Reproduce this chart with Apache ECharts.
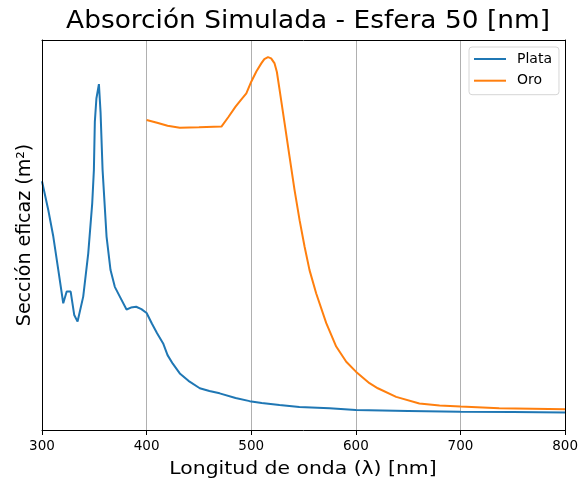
<!DOCTYPE html>
<html>
<head>
<meta charset="utf-8">
<script src="https://cdn.jsdelivr.net/npm/echarts@6/dist/echarts.min.js"></script>
<style>
  html, body { margin: 0; padding: 0; background: #fff; }
  #chart { width: 581px; height: 480px; }
</style>
</head>
<body>
<div id="chart"></div>
<script>
// Simulated absorption cross-section (arbitrary units) of a 50 nm sphere
const plataNm = [300, 306, 310.8, 315.6, 320.3, 323.6, 327.4, 330.8, 334, 339.4, 344.2, 348, 349.6, 350.5, 352, 354.4, 356, 357.9, 361.7, 365.5, 369.6, 374.4, 380.8, 385, 390, 395, 400, 405, 410, 415.8, 420, 425, 431.7, 440, 450.8, 460, 469.8, 485, 498.5, 510, 527, 546, 574.8, 600, 650, 700, 750, 800];
const plataSigma = [63.8, 56.4, 49.6, 41, 32.5, 35.5, 35.5, 29.5, 27.8, 34.2, 45.3, 58.1, 66.7, 79, 85, 88.7, 81.3, 66.7, 49.6, 41, 36.7, 34.2, 30.9, 31.4, 31.6, 31, 30, 27.3, 24.8, 22.2, 19.2, 17, 14.5, 12.6, 10.7, 10, 9.4, 8.2, 7.4, 6.9, 6.4, 5.9, 5.6, 5.1, 4.9, 4.7, 4.6, 4.5];

const oroNm = [400, 410, 420, 431.7, 450, 471.5, 478, 485, 490, 495.3, 500, 505, 509.6, 512.5, 516, 519, 522.3, 524.5, 527.1, 531.9, 536.6, 541.4, 546.2, 551, 555.7, 562.1, 571.7, 581.2, 590.8, 600.3, 613, 621, 638.5, 660.7, 680, 700, 737, 800];
const oroSigma = [79.5, 78.8, 78, 77.5, 77.6, 77.8, 80.2, 82.9, 84.6, 86.3, 89.3, 92, 94, 95.1, 95.6, 95.3, 94, 91.8, 87.2, 78.6, 70.1, 61.5, 53.8, 47, 41, 35, 27.4, 21.4, 17.5, 14.9, 12, 10.7, 8.5, 6.8, 6.3, 6.0, 5.6, 5.3];

const xTicks = [300, 400, 500, 600, 700, 800];

const titleText = 'Absorción Simulada - Esfera 50 [nm]';
const xName = 'Longitud de onda (λ) [nm]';
const yName = 'Sección eficaz (m²)';

const zip = (xs, ys) => xs.map((x, i) => [x, ys[i]]);

const chart = echarts.init(document.getElementById('chart'), null, { renderer: 'canvas' });
const font = 'DejaVu Sans';

chart.setOption({
  animation: false,
  backgroundColor: '#fff',
  textStyle: { fontFamily: font, color: '#000' },
  graphic: [{
    type: 'text', x: 308, y: 22, scaleX: 1.1,
    style: { text: titleText, font: '24px "DejaVu Sans"', fill: '#000', textAlign: 'center', textVerticalAlign: 'middle' }
  }, {
    type: 'text', x: 303, y: 469, scaleX: 1.1,
    style: { text: xName, font: '18.5px "DejaVu Sans"', fill: '#000', textAlign: 'center', textVerticalAlign: 'middle' }
  }],
  grid: { left: 42, right: 15, top: 40, bottom: 50, containLabel: false },
  legend: {
    data: ['Plata', 'Oro'],
    orient: 'vertical',
    left: 469, top: 47,
    padding: [4, 7, 6, 5],
    itemGap: 5.7,
    icon: 'rect',
    itemWidth: 32, itemHeight: 2,
    backgroundColor: 'rgba(255,255,255,0.8)',
    borderColor: '#d6d6d6', borderWidth: 1, borderRadius: 3,
    textStyle: { fontFamily: font, fontSize: 14, color: '#000', lineHeight: 16, padding: [0, 0, 0, 6] }
  },
  xAxis: [{
    type: 'value', min: 300, max: 800, interval: 100,
    axisLine: { onZero: false, lineStyle: { color: '#000', width: 1 } },
    axisTick: { show: true, length: 5, lineStyle: { color: '#000' } },
    axisLabel: {
      margin: 9, fontFamily: font, fontSize: 13.5, color: '#000',
      formatter: v => xTicks.includes(v) ? String(v) : ''
    },
    splitLine: { show: true, lineStyle: { color: '#b0b0b0', width: 1 } }
  }, {
    type: 'value', position: 'top', min: 300, max: 800, z: 5,
    axisLine: { onZero: false, lineStyle: { color: '#000', width: 1 } },
    axisTick: { show: false }, axisLabel: { show: false }, splitLine: { show: false }
  }],
  yAxis: [{
    type: 'value', min: 0, max: 100, z: 5,
    name: yName, nameLocation: 'middle', nameGap: 7, nameRotate: 90,
    nameTextStyle: { fontFamily: font, fontSize: 19, color: '#000' },
    axisLine: { show: true, onZero: false, lineStyle: { color: '#000', width: 1 } },
    axisTick: { show: false }, axisLabel: { show: false }, splitLine: { show: false }
  }, {
    type: 'value', position: 'right', min: 0, max: 100, z: 5,
    axisLine: { show: true, onZero: false, lineStyle: { color: '#000', width: 1 } },
    axisTick: { show: false }, axisLabel: { show: false }, splitLine: { show: false }
  }],
  series: [{
    name: 'Plata', type: 'line', data: zip(plataNm, plataSigma),
    showSymbol: false, smooth: false, color: '#1f77b4',
    lineStyle: { width: 2, color: '#1f77b4' }
  }, {
    name: 'Oro', type: 'line', data: zip(oroNm, oroSigma),
    showSymbol: false, smooth: false, color: '#ff7f0e',
    lineStyle: { width: 2, color: '#ff7f0e' }
  }]
});
</script>
</body>
</html>
